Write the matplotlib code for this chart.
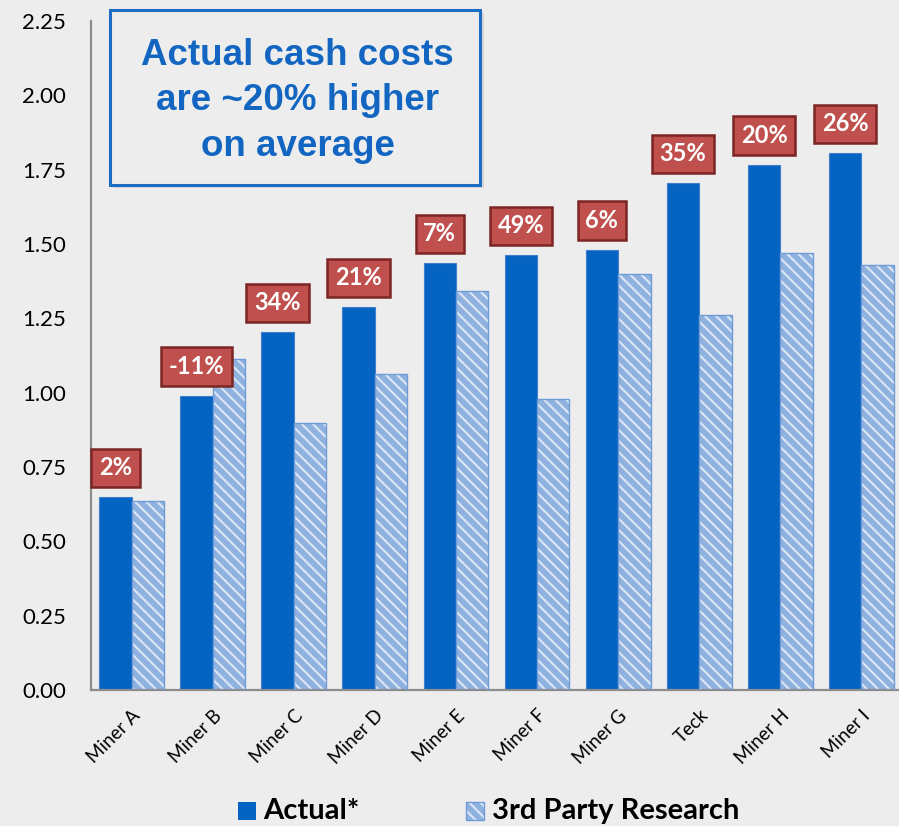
import matplotlib
matplotlib.use("Agg")
import matplotlib.pyplot as plt
from matplotlib.patches import Rectangle
import numpy as np

plt.rcParams['font.family'] = ['Lato', 'DejaVu Sans']
plt.rcParams['hatch.linewidth'] = 1.5

companies = ["Miner A", "Miner B", "Miner C", "Miner D", "Miner E",
             "Miner F", "Miner G", "Teck", "Miner H", "Miner I"]
actual = [0.649, 0.989, 1.204, 1.288, 1.436, 1.463, 1.480, 1.705, 1.766, 1.806]
third_party = [0.636, 1.113, 0.898, 1.062, 1.342, 0.979, 1.399, 1.261, 1.470, 1.430]
yticks = [0.00, 0.25, 0.50, 0.75, 1.00, 1.25, 1.50, 1.75, 2.00, 2.25]

BG = "#EDEDED"
BLUE = "#0563C1"
LIGHT = "#8FB1DF"
STRIPE = "#DCE7F6"
OUTLINE = "#6F9BD6"
HATCH = "\\\\\\"

fig = plt.figure(figsize=(8.99, 8.26), dpi=100, facecolor=BG)
ax = fig.add_axes([91 / 899, 1 - 690 / 826, (902 - 91) / 899, (690 - 21) / 826])
ax.set_facecolor(BG)

x = np.arange(len(companies))
w = 0.4
ax.bar(x - w / 2, actual, w, color=BLUE, edgecolor="#3F7FCC", linewidth=0.8, zorder=2)
ax.bar(x + w / 2, third_party, w, color=LIGHT, edgecolor=STRIPE, hatch=HATCH,
       linewidth=0, zorder=2)
ax.bar(x + w / 2, third_party, w, facecolor="none", edgecolor=OUTLINE, linewidth=1.0, zorder=3)

# difference labels above the actual bars
for xi, a, t in zip(x, actual, third_party):
    pct = int(round((a / t - 1) * 100))
    ax.annotate(f"{pct}%", xy=(xi - w / 2, a), xytext=(0, 21), textcoords="offset points",
                ha="center", va="center", fontsize=17, fontweight="bold", color="white",
                bbox=dict(boxstyle="square,pad=0.33", fc="#C0504D", ec="#7A2624", lw=1.8),
                zorder=5)

ax.set_xlim(-0.5, 9.5)
ax.set_ylim(0, 2.25)
ax.set_yticks(yticks)
ax.set_yticklabels([f"{v:.2f}" for v in yticks], fontsize=16)
ax.set_xticks(x)
ax.set_xticklabels(companies, rotation=45, ha="right", va="top", rotation_mode="anchor",
                   fontsize=13.5)
ax.tick_params(axis="y", length=0, pad=18)
ax.tick_params(axis="x", length=0, pad=12)
for s in ["top", "right"]:
    ax.spines[s].set_visible(False)
for s in ["left", "bottom"]:
    ax.spines[s].set_color("#8C8C8C")
    ax.spines[s].set_linewidth(1.6)

# callout box
bx0, by0, bx1, by1 = 110 / 899, 1 - 185 / 826, 480 / 899, 1 - 10 / 826
fig.patches.append(Rectangle((bx0 + 0.004, by0 - 0.004), bx1 - bx0, by1 - by0,
                             transform=fig.transFigure, fc="#D6D6D6", ec="none", zorder=3))
fig.patches.append(Rectangle((bx0, by0), bx1 - bx0, by1 - by0, transform=fig.transFigure,
                             fc=BG, ec="#1C6DC4", lw=2.2, zorder=4))
fig.text((bx0 + bx1) / 2 + 0.003, (by0 + by1) / 2 - 0.004,
         "Actual cash costs\nare ~20% higher\non average",
         ha="center", va="center", fontsize=26.5, fontweight="bold", color="#1266C2",
         family="Liberation Sans", linespacing=1.38, zorder=5)

# legend
ly = 1 - 811 / 826
fig.patches.append(Rectangle((238 / 899, ly - 9 / 826), 18 / 899, 18 / 826,
                             transform=fig.transFigure, fc=BLUE, ec="none"))
fig.text(263 / 899, ly, "Actual*", ha="left", va="center", fontsize=21, fontweight="bold")
fig.patches.append(Rectangle((466 / 899, ly - 9 / 826), 18 / 899, 18 / 826,
                             transform=fig.transFigure, fc=LIGHT, ec=STRIPE,
                             hatch=HATCH, lw=0))
fig.patches.append(Rectangle((466 / 899, ly - 9 / 826), 18 / 899, 18 / 826,
                             transform=fig.transFigure, fc="none", ec=OUTLINE, lw=1))
fig.text(492 / 899, ly, "3rd Party Research", ha="left", va="center", fontsize=21,
         fontweight="bold")

fig.savefig("out.png", dpi=100, facecolor=BG)
